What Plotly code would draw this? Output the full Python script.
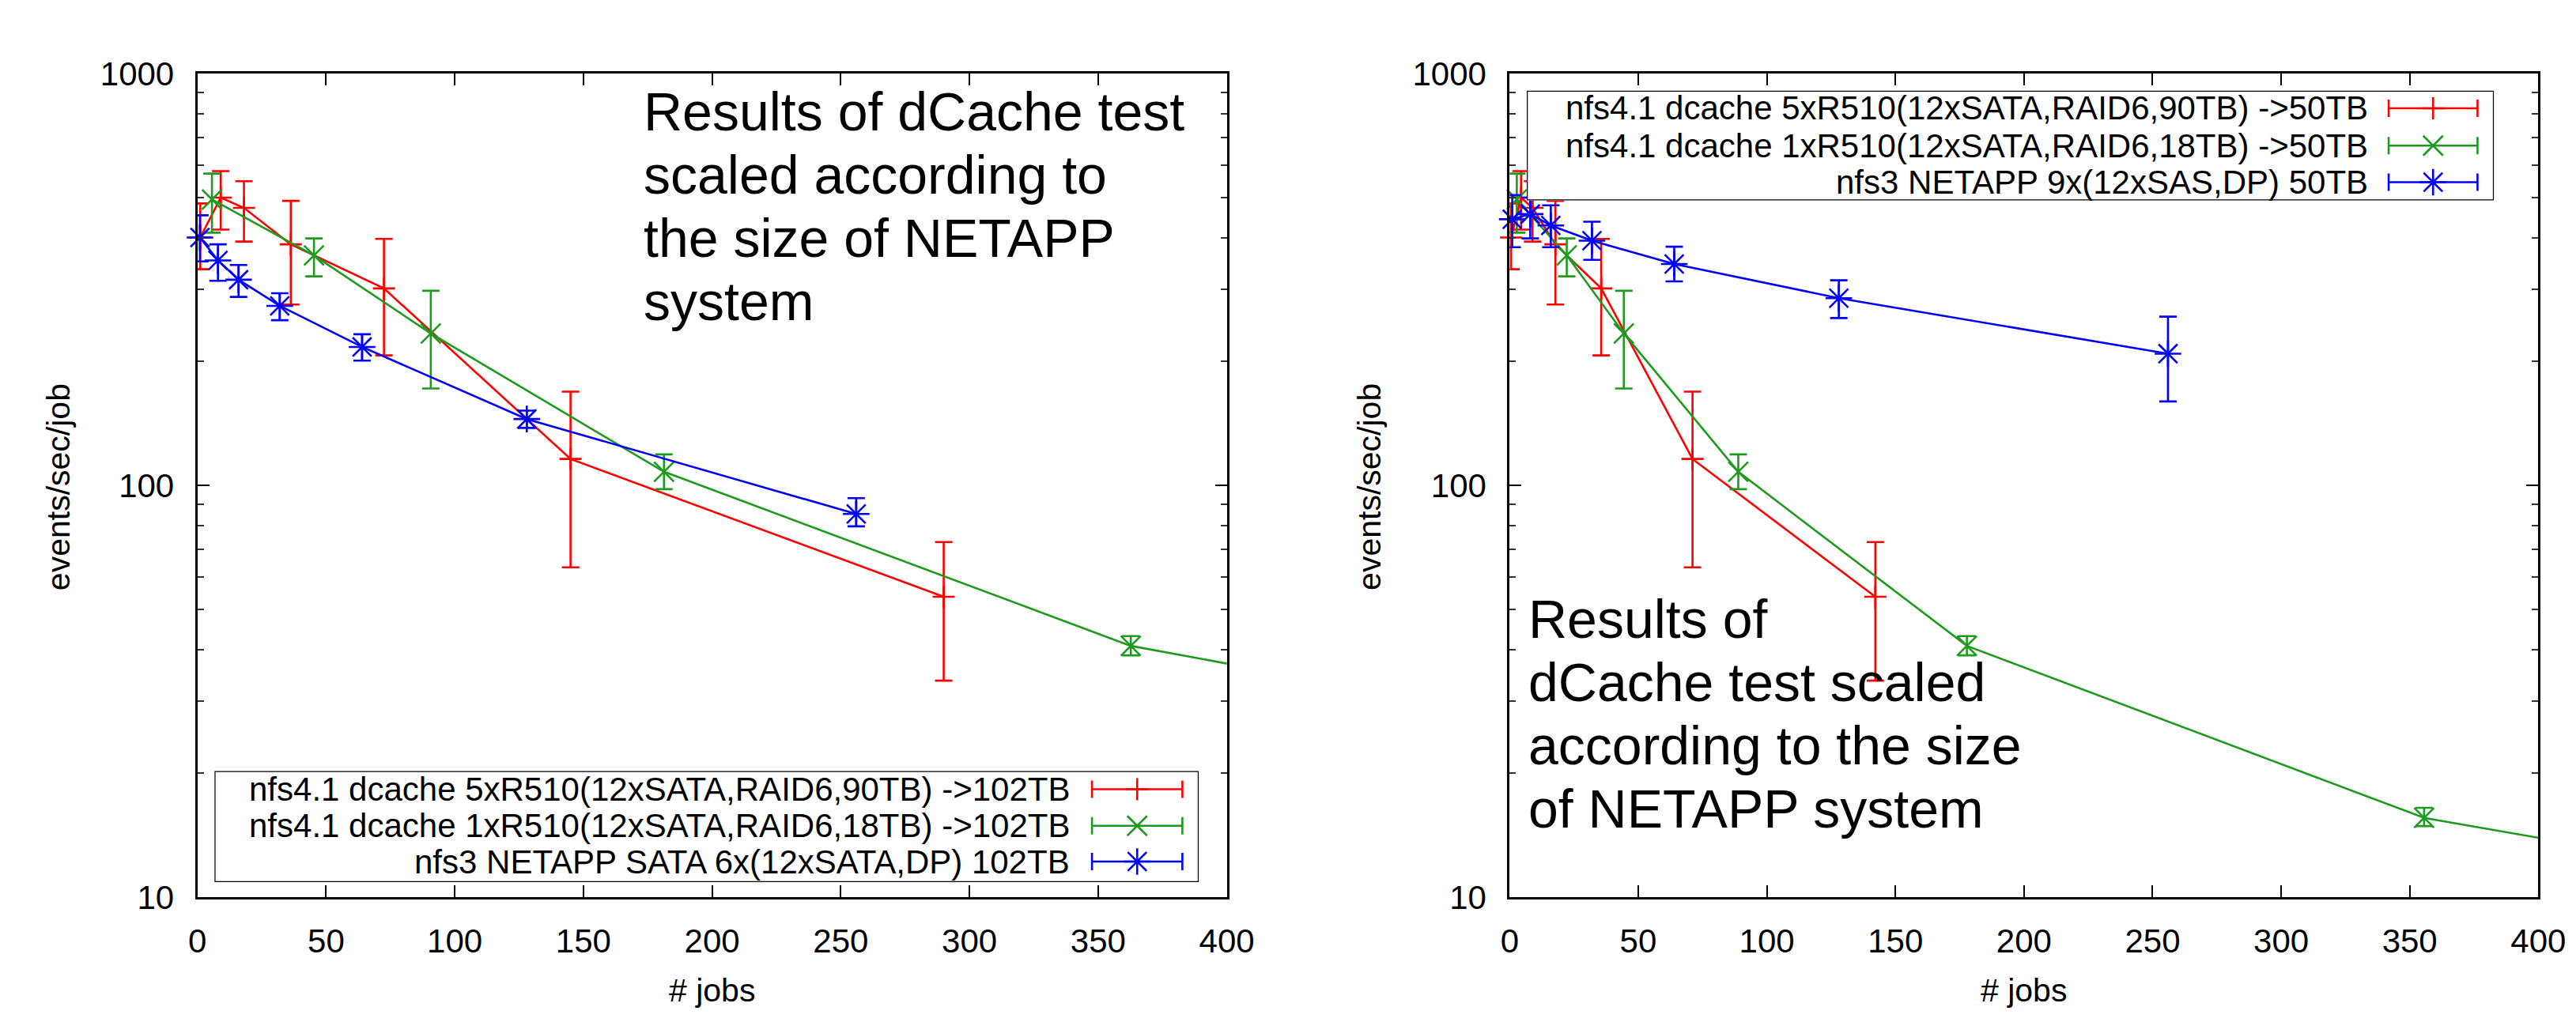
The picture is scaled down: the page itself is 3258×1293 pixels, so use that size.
import plotly.graph_objects as go

W, H = 3258, 1293

# ---------------- data ----------------
# x values: number of jobs (scaled to NETAPP size)
jobs_red_102 = [1.13, 9.07, 18.1, 36.3, 72.5, 145.0, 290.0]
jobs_green_102 = [5.67, 45.3, 90.7, 181.3, 362.7, 725.3]
jobs_blue_102 = [1, 8, 16, 32, 64, 128, 256]

jobs_red_50 = [0.56, 4.44, 8.9, 17.8, 35.6, 71.1, 142.2]
jobs_green_50 = [2.78, 22.2, 44.4, 88.9, 177.8, 355.6, 711.1]
jobs_blue_50 = [1, 8, 16, 32, 64, 128, 256]

# events/sec/job
red_rate = [400, 500, 472, 385, 301, 116, 53.7]
red_low = [335, 418, 391, 275, 207, 63.3, 33.6]
red_high = [484, 580, 548, 491, 397, 169, 72.9]

green_rate = [495, 362, 234, 108, 40.8, 15.6, 6.4]
green_low = [411, 322, 172, 98, 38.7, 14.9, 6.0]
green_high = [572, 398, 297, 119, 43.1, 16.5, 6.8]

blue_rate_102 = [400, 352, 316, 273, 217, 145, 85.3]
blue_low_102 = [350, 314, 287, 252, 201, 138, 79.6]
blue_high_102 = [453, 385, 343, 293, 233, 152, 93.2]

blue_rate_50 = [443, 456, 428, 393, 345, 285, 209]
blue_low_50 = [379, 398, 379, 353, 313, 255, 160]
blue_high_50 = [507, 500, 479, 437, 380, 315, 257]

x_ticks = [0, 50, 100, 150, 200, 250, 300, 350, 400]
y_ticks = [10, 100, 1000]
y_tick_text = ["10", "100", "1000"]
y_minor = [20, 30, 40, 50, 60, 70, 80, 90, 200, 300, 400, 500, 600, 700, 800, 900]

legend_102 = ["nfs4.1 dcache 5xR510(12xSATA,RAID6,90TB) ->102TB",
              "nfs4.1 dcache 1xR510(12xSATA,RAID6,18TB) ->102TB",
              "nfs3 NETAPP SATA 6x(12xSATA,DP) 102TB"]
legend_50 = ["nfs4.1 dcache 5xR510(12xSATA,RAID6,90TB) ->50TB",
             "nfs4.1 dcache 1xR510(12xSATA,RAID6,18TB) ->50TB",
             "nfs3 NETAPP 9x(12xSAS,DP) 50TB"]
note_102 = ["Results of dCache test", "scaled according to", "the size of NETAPP", "system"]
note_50 = ["Results of", "dCache test scaled", "according to the size", "of NETAPP system"]

RED, GREEN, BLUE = "#ff0000", "#1e9a1e", "#0000ff"
FONT = "Liberation Sans, Arial, sans-serif"
LW = 2.6
STYLES = [(RED, "cross-thin", 20), (GREEN, "x-thin", 25), (BLUE, "asterisk-open", 28)]

fig = go.Figure()


def series(xa, ya, x, y, lo, hi, style):
    color, symbol, size = style
    # line through all points (clipped to plot)
    fig.add_trace(go.Scatter(x=x, y=y, mode="lines", xaxis=xa, yaxis=ya,
                             line=dict(color=color, width=LW), showlegend=False,
                             hoverinfo="skip"))
    idx = [i for i in range(len(x)) if x[i] <= 400]
    xs = [x[i] for i in idx]
    ys = [y[i] for i in idx]
    fig.add_trace(go.Scatter(
        x=xs, y=ys, mode="markers", xaxis=xa, yaxis=ya, cliponaxis=False,
        marker=dict(symbol=symbol, size=size, color=color,
                    line=dict(color=color, width=LW)),
        error_y=dict(type="data", symmetric=False,
                     array=[hi[i] - y[i] for i in idx],
                     arrayminus=[y[i] - lo[i] for i in idx],
                     color=color, thickness=LW, width=11),
        showlegend=False))


# left plot
series("x", "y", jobs_red_102, red_rate, red_low, red_high, STYLES[0])
series("x", "y", jobs_green_102, green_rate[:6], green_low[:6], green_high[:6], STYLES[1])
series("x", "y", jobs_blue_102, blue_rate_102, blue_low_102, blue_high_102, STYLES[2])
# right plot
series("x2", "y2", jobs_red_50, red_rate, red_low, red_high, STYLES[0])
series("x2", "y2", jobs_green_50, green_rate, green_low, green_high, STYLES[1])
series("x2", "y2", jobs_blue_50, blue_rate_50, blue_low_50, blue_high_50, STYLES[2])

YDOM = [1 - 1146 / H, 1 - 64.5 / H]
LEFT_X = [233 / W, 1554 / W]
RIGHT_X = [1917 / W, 3237 / W]

axis_common = dict(showline=True, linewidth=3, linecolor="black", mirror="ticks",
                   ticks="inside", ticklen=15, tickwidth=2, tickcolor="black",
                   showgrid=False, zeroline=False,
                   tickfont=dict(family=FONT, size=42, color="black"))

xcfg = dict(axis_common, range=[0, 400], tickmode="array", tickvals=x_ticks,
            ticklabelstandoff=16)
ycfg = dict(axis_common, type="log", range=[1, 3], tickmode="array",
            tickvals=y_ticks, ticktext=y_tick_text, ticklabelstandoff=18,
            minor=dict(tickmode="array", tickvals=y_minor, ticks="inside",
                       ticklen=8, tickwidth=2, tickcolor="#333"))

fig.update_layout(
    width=W, height=H, margin=dict(l=0, r=0, t=0, b=0),
    paper_bgcolor="white", plot_bgcolor="white", showlegend=False,
    xaxis=dict(xcfg, domain=LEFT_X, anchor="y"),
    yaxis=dict(ycfg, domain=YDOM, anchor="x"),
    xaxis2=dict(xcfg, domain=RIGHT_X, anchor="y2"),
    yaxis2=dict(ycfg, domain=YDOM, anchor="x2"),
    # legend boxes as pixel-unit overlay axes
    xaxis3=dict(domain=[255 / W, 1518 / W], range=[255, 1518], visible=False, anchor="y3"),
    yaxis3=dict(domain=[1 - 1126 / H, 1 - 980 / H], range=[1126, 980], visible=False, anchor="x3"),
    xaxis4=dict(domain=[1939 / W, 3180 / W], range=[1939, 3180], visible=False, anchor="y4"),
    yaxis4=dict(domain=[1 - 231 / H, 1 - 87 / H], range=[231, 87], visible=False, anchor="x4"),
)

annotations = []
shapes = []


def legend(xa, ya, x0, x1, y0, y1, rows, texts, text_right, sample_x, half):
    shapes.append(dict(type="rect", xref=xa, yref=ya, x0=x0, x1=x1, y0=y0, y1=y1,
                       line=dict(color="black", width=2.5), layer="below"))
    for r, t, (c, s, sz) in zip(rows, texts, STYLES):
        annotations.append(dict(xref=xa, yref=ya, x=text_right, y=r, text=t,
                                showarrow=False, xanchor="right", yanchor="middle",
                                font=dict(family=FONT, size=42, color="black")))
        fig.add_trace(go.Scatter(
            x=[sample_x], y=[r], mode="markers", xaxis=xa, yaxis=ya, cliponaxis=False,
            marker=dict(symbol=s, size=sz, color=c, line=dict(color=c, width=LW)),
            error_x=dict(type="constant", value=half, color=c, thickness=LW, width=11),
            showlegend=False))


legend("x3", "y3", 255, 1518, 980, 1126, [1004, 1052, 1099], legend_102, 1355, 1439, 58)
legend("x4", "y4", 1939, 3180, 87, 231, [110, 159, 207], legend_50, 3021, 3102, 57)


def note(x, centers, lines):
    for c, t in zip(centers, lines):
        annotations.append(dict(xref="paper", yref="paper", x=x / W, y=1 - c / H, text=t,
                                showarrow=False, xanchor="left", yanchor="middle",
                                font=dict(family=FONT, size=68, color="black")))


note(804, [114, 197, 280, 363], note_102)
note(1939, [780, 863, 946, 1029], note_50)

# axis titles
for cx in (55, 1737):
    annotations.append(dict(xref="paper", yref="paper", x=cx / W, y=1 - 607 / H,
                            text="events/sec/job", textangle=-90, showarrow=False,
                            xanchor="center", yanchor="middle",
                            font=dict(family=FONT, size=41, color="black")))
for cx in (893, 2577):
    annotations.append(dict(xref="paper", yref="paper", x=cx / W, y=1 - 1268 / H,
                            text="# jobs", showarrow=False,
                            xanchor="center", yanchor="middle",
                            font=dict(family=FONT, size=41, color="black")))

fig.update_layout(annotations=annotations, shapes=shapes)
fig.write_html("out.html")
